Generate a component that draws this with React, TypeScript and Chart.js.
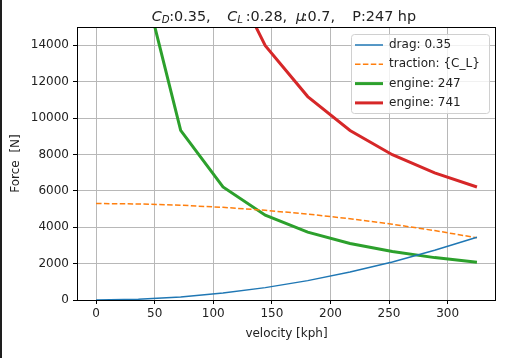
import React, { useEffect, useRef } from "react";
import { Chart, registerables } from "chart.js";

Chart.register(...registerables);

// ---- data ----
const velocityKph = [0, 36.1, 72.2, 108.3, 144.4, 180.6, 216.7, 252.8, 288.9, 325];
const dragForce = [0, 43, 170, 385, 680, 1065, 1535, 2090, 2730, 3450];
const tractionForce = [5300, 5277, 5207, 5091, 4929, 4720, 4465, 4162, 3814, 3420];
const engine247Force = [null, 18630, 9315, 6210, 4658, 3726, 3105, 2661, 2329, 2070];
const engine741Force = [null, 55890, 27945, 18630, 13973, 11178, 9315, 7984, 6986, 6210];
const seriesLabels = ["drag: 0.35", "traction: {C_L}", "engine: 247", "engine: 741"];
const xTicks = [0, 50, 100, 150, 200, 250, 300];
const yTicks = [0, 2000, 4000, 6000, 8000, 10000, 12000, 14000];
const xRange = [-16.25, 341.25];
const yRange = [0, 15000];
// title pieces: text, style, start offset (px) from the title's left edge (-1 = follow previous)
const titleParts = [
  { text: "C", kind: "math", at: 0 },
  { text: "D", kind: "sub", at: -1 },
  { text: ":0.35,", kind: "rm", at: 17.5 },
  { text: "C", kind: "math", at: 75.6 },
  { text: "L", kind: "sub", at: -1 },
  { text: ":0.28,", kind: "rm", at: 94 },
  { text: "\u03bc", kind: "math", at: 144.3 },
  { text: ":0.7,", kind: "rm", at: 151 },
  { text: "P:247 hp", kind: "rm", at: 200.6 },
];
const xTitle = "velocity [kph]";
const yTitle = "Force  [N]";

const FONT = '"DejaVu Sans", sans-serif';
const TEXT = "#222";

const toPoints = (ys: (number | null)[]) => velocityKph.map((x, i) => ({ x, y: ys[i] }));

const overlayPlugin = {
  id: "overlay",
  afterDatasetsDraw(chart: any) {
    const { ctx, chartArea } = chart;
    const { left, right, top, bottom } = chartArea;
    ctx.save();
    // spines
    ctx.strokeStyle = "#000";
    ctx.lineWidth = 1;
    ctx.strokeRect(Math.round(left) + 0.5, Math.round(top) + 0.5, Math.round(right - left) - 1, Math.round(bottom - top));

    // title
    const big = 14.4;
    const small = 10.2;
    const fontOf = (k: string) =>
      k === "rm" ? `${big}px ${FONT}` : k === "math" ? `italic ${big}px ${FONT}` : `italic ${small}px ${FONT}`;
    const x0 = (left + right) / 2 - 134.8;
    let x = x0;
    const base = 20.5;
    ctx.fillStyle = TEXT;
    ctx.textBaseline = "alphabetic";
    ctx.textAlign = "left";
    titleParts.forEach((p) => {
      ctx.font = fontOf(p.kind);
      if (p.at >= 0) x = x0 + p.at;
      ctx.fillText(p.text, x, p.kind === "sub" ? base + 2.6 : base);
      x += ctx.measureText(p.text).width;
    });

    // legend
    const bx = 351, by = 34, bw = 138, bh = 79;
    ctx.beginPath();
    if ((ctx as any).roundRect) (ctx as any).roundRect(bx + 0.5, by + 0.5, bw, bh, 3);
    else ctx.rect(bx + 0.5, by + 0.5, bw, bh);
    ctx.fillStyle = "rgba(255,255,255,0.8)";
    ctx.fill();
    ctx.strokeStyle = "#d0d0d0";
    ctx.lineWidth = 1;
    ctx.stroke();
    ctx.font = `12px ${FONT}`;
    ctx.textBaseline = "middle";
    chart.data.datasets.forEach((ds: any, i: number) => {
      const cy = 45 + i * 19.3;
      ctx.beginPath();
      ctx.setLineDash(ds.borderDash || []);
      ctx.strokeStyle = ds.borderColor;
      ctx.lineWidth = ds.borderWidth;
      ctx.moveTo(355, cy);
      ctx.lineTo(383, cy);
      ctx.stroke();
      ctx.setLineDash([]);
      ctx.fillStyle = TEXT;
      ctx.fillText(ds.label, 389, cy);
    });

    // left screenshot edge
    ctx.fillStyle = "#1e1e1e";
    ctx.fillRect(0, 0, 2, chart.height);
    ctx.restore();
  },
};

export default function App() {
  const ref = useRef<HTMLCanvasElement | null>(null);
  useEffect(() => {
    if (!ref.current) return;
    const chart = new Chart(ref.current, {
      type: "line",
      data: {
        datasets: [
          { label: seriesLabels[0], data: toPoints(dragForce), borderColor: "#1f77b4", borderWidth: 1.5, pointRadius: 0, fill: false },
          { label: seriesLabels[1], data: toPoints(tractionForce), borderColor: "#ff7f0e", borderWidth: 1.5, borderDash: [5.5, 2.4], pointRadius: 0, fill: false },
          { label: seriesLabels[2], data: toPoints(engine247Force), borderColor: "#2ca02c", borderWidth: 3, pointRadius: 0, fill: false },
          { label: seriesLabels[3], data: toPoints(engine741Force), borderColor: "#d62728", borderWidth: 3, pointRadius: 0, fill: false },
        ],
      },
      options: {
        animation: false,
        responsive: false,
        maintainAspectRatio: false,
        devicePixelRatio: 1,
        layout: { padding: { top: 27, right: 21, left: 0, bottom: 0 } },
        plugins: { legend: { display: false }, title: { display: false }, tooltip: { enabled: false } },
        scales: {
          x: {
            type: "linear",
            min: xRange[0],
            max: xRange[1],
            afterBuildTicks: (s: any) => { s.ticks = xTicks.map((v) => ({ value: v })); },
            afterFit: (s: any) => { s.height = 58; },
            grid: { color: "#b8b8b8", lineWidth: 1, drawTicks: true, tickLength: 4, tickColor: "#000" },
            border: { display: false },
            ticks: { color: TEXT, font: { family: FONT, size: 12 }, padding: 3, maxRotation: 0, callback: (v: any) => String(v) },
            title: { display: true, text: xTitle, color: TEXT, font: { family: FONT, size: 12 }, padding: { top: 0, bottom: 17 } },
          },
          y: {
            type: "linear",
            min: yRange[0],
            max: yRange[1],
            afterBuildTicks: (s: any) => { s.ticks = yTicks.map((v) => ({ value: v })); },
            afterFit: (s: any) => { s.width = 77; },
            grid: { color: "#b8b8b8", lineWidth: 1, drawTicks: true, tickLength: 4, tickColor: "#000" },
            border: { display: false },
            ticks: { color: TEXT, font: { family: FONT, size: 12 }, padding: 4, callback: (v: any) => String(v) },
            title: { display: true, text: yTitle, color: TEXT, font: { family: FONT, size: 12 }, padding: { top: 9, bottom: 0 } },
          },
        },
      },
      plugins: [overlayPlugin],
    });
    return () => chart.destroy();
  }, []);
  return (
    <div style={{ position: "absolute", left: 0, top: 0, width: 517, height: 358, background: "#fff" }}>
      <canvas ref={ref} width={517} height={358} style={{ display: "block", width: 517, height: 358 }} />
    </div>
  );
}
